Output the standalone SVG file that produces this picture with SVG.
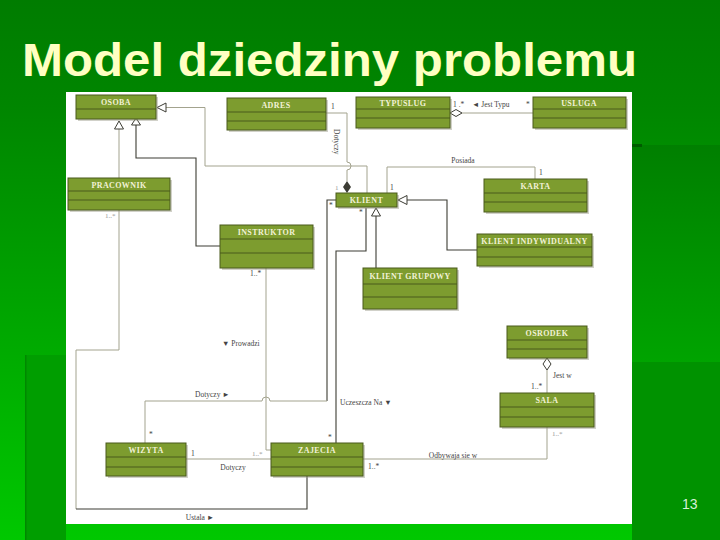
<svg xmlns="http://www.w3.org/2000/svg" width="720" height="540" viewBox="0 0 720 540">
<defs>
<linearGradient id="bg" x1="0" y1="0" x2="0" y2="1">
<stop offset="0" stop-color="#007c00"/>
<stop offset="0.2" stop-color="#008600"/>
<stop offset="1" stop-color="#00c800"/>
</linearGradient>
<linearGradient id="rp" x1="0" y1="0" x2="0" y2="1">
<stop offset="0" stop-color="#007f00"/>
<stop offset="1" stop-color="#00a400"/>
</linearGradient>
<style>
.box{fill:#7d9c2f;stroke:#4a5a1c;stroke-width:1}
.sep{stroke:#4a5a1c;stroke-width:1}
.sh{fill:#9a9a88;opacity:0.45}
.nm{font-family:"Liberation Serif",serif;font-weight:bold;font-size:8px;fill:#f2f2d6;text-anchor:middle;letter-spacing:0.4px}
.lg{fill:none;stroke:#a3a38e;stroke-width:1}
.ld{fill:none;stroke:#3c3c34;stroke-width:1.1}
.tri{fill:#ffffff;stroke:#3c3c34;stroke-width:1}
.lb{font-family:"Liberation Serif",serif;font-size:7.5px;fill:#444}
.lf{font-family:"Liberation Serif",serif;font-size:7px;fill:#999}
</style>
</defs>
<rect width="720" height="540" fill="url(#bg)"/>
<rect x="632" y="145" width="88" height="217" fill="url(#rp)"/>
<rect x="632" y="362" width="88" height="178" fill="#009200"/>
<rect x="632" y="144" width="10" height="3" fill="#005c00"/>
<rect x="25" y="355" width="41" height="185" fill="#009e00"/>
<rect x="25" y="355" width="1.5" height="185" fill="#008800"/>
<text x="22" y="76" font-family="Liberation Sans, Arial, sans-serif" font-weight="bold" font-size="46" fill="#ffffc2" textLength="615" lengthAdjust="spacingAndGlyphs">Model dziedziny problemu</text>
<text x="682" y="509" font-family="Liberation Sans, Arial, sans-serif" font-size="14" fill="#d8f0d8">13</text>
<rect x="66" y="92" width="566" height="432" fill="#ffffff"/>

<g id="connectors">
<!-- PRACOWNIK -> OSOBA -->
<path class="lg" d="M119,129 V178"/>
<polygon class="tri" points="119,121 114.5,129 123.5,129"/>
<!-- INSTRUKTOR -> OSOBA -->
<path class="ld" d="M136,125 V158 H196 V246 H220"/>
<polygon class="tri" points="136,118 131.5,125 140.5,125"/>
<!-- KLIENT -> OSOBA -->
<path class="lg" d="M166,107.5 H205 V166 H367 V193"/>
<polygon class="tri" points="157,107.5 166,103 166,112"/>
<!-- ADRES - KLIENT Dotyczy -->
<path class="lg" d="M326,113 H347 V162 a4,4 0 0 1 0,8 V181"/>
<polygon fill="#3c3c34" points="347,181 351,187 347,193 343,187"/>
<!-- TYPUSLUG - USLUGA -->
<path class="lg" d="M462,113 H533"/>
<polygon fill="#ffffff" stroke="#3c3c34" stroke-width="1" points="450,113 456,109.5 462,113 456,116.5"/>
<!-- KLIENT - KARTA Posiada -->
<path class="lg" d="M387,193 V167 H535 V179"/>
<!-- KLIENT INDYWIDUALNY -> KLIENT -->
<path class="ld" d="M407,200 H447 V250 H477"/>
<polygon class="tri" points="398,200 407,195.5 407,204.5"/>
<!-- KLIENT GRUPOWY -> KLIENT -->
<path class="ld" d="M376,216 V268"/>
<polygon class="tri" points="376,208 371.5,216 380.5,216"/>
<!-- WIZYTA - KLIENT Dotyczy -->
<path class="ld" d="M336,200 H327 V401"/>
<path class="lg" d="M327,401 H270 a4,4 0 0 0 -8,0 H145 V443"/>
<!-- KLIENT - ZAJECIA Uczeszcza Na -->
<path class="ld" d="M366,208 V251 H336 V443"/>
<!-- INSTRUKTOR - ZAJECIA Prowadzi -->
<path class="lg" d="M266,268 V450 H271"/>
<!-- WIZYTA - ZAJECIA Dotyczy -->
<path class="lg" d="M186,459 H271"/>
<!-- PRACOWNIK - ZAJECIA Ustala -->
<path class="lg" d="M119,210 V350 H76 V509"/>
<path class="ld" d="M76,509 H307 V476"/>
<!-- ZAJECIA - SALA -->
<path class="lg" d="M363,459 H547 V427"/>
<!-- OSRODEK - SALA -->
<path class="lg" d="M547,370 V393"/>
<polygon fill="#ffffff" stroke="#3c3c34" stroke-width="1" points="547,358 551,364 547,370 543,364"/>

<text class="lb" x="331" y="109">1</text>
<text class="lb" transform="translate(334,129) rotate(90)">Dotyczy</text>
<text class="lf" x="335" y="190">1</text>
<text class="lb" x="453" y="107">1 .*</text>
<text class="lb" x="472" y="107">◄ Jest Typu</text>
<text class="lb" x="526" y="107">*</text>
<text class="lb" x="463" y="163" text-anchor="middle">Posiada</text>
<text class="lb" x="539" y="175">1</text>
<text class="lb" x="390" y="190">1</text>
<text class="lb" x="329" y="208">*</text>
<text class="lb" x="359" y="215">*</text>
<text class="lf" x="105" y="218">1..*</text>
<text class="lb" x="250" y="276">1..*</text>
<text class="lb" x="222" y="346">▼ Prowadzi</text>
<text class="lb" x="195" y="397">Dotyczy ►</text>
<text class="lb" x="340" y="405">Uczeszcza Na ▼</text>
<text class="lb" x="328" y="440">*</text>
<text class="lb" x="149" y="437">*</text>
<text class="lb" x="191" y="456">1</text>
<text class="lf" x="252" y="456">1..*</text>
<text class="lb" x="233" y="470" text-anchor="middle">Dotyczy</text>
<text class="lb" x="200" y="520" text-anchor="middle">Ustala ►</text>
<text class="lb" x="453" y="458" text-anchor="middle">Odbywaja sie w</text>
<text class="lb" x="368" y="469">1..*</text>
<text class="lf" x="552" y="436">1..*</text>
<text class="lb" x="553" y="378">Jest w</text>
<text class="lb" x="531" y="389">1..*</text>
</g>

<g id="osoba">
<rect class="sh" x="78" y="97" width="80" height="24"/>
<rect class="box" x="76" y="95" width="80" height="24"/>
<line class="sep" x1="76" y1="109" x2="156" y2="109"/>
<text class="nm" x="116" y="105">OSOBA</text>
</g>
<g id="adres">
<rect class="sh" x="229" y="100" width="99" height="32"/>
<rect class="box" x="227" y="98" width="99" height="32"/>
<line class="sep" x1="227" y1="112" x2="326" y2="112"/>
<line class="sep" x1="227" y1="121" x2="326" y2="121"/>
<text class="nm" x="276" y="108">ADRES</text>
</g>
<g id="typuslug">
<rect class="sh" x="358" y="99" width="94" height="31"/>
<rect class="box" x="356" y="97" width="94" height="31"/>
<line class="sep" x1="356" y1="109" x2="450" y2="109"/>
<line class="sep" x1="356" y1="118" x2="450" y2="118"/>
<text class="nm" x="403" y="106">TYPUSLUG</text>
</g>
<g id="usluga">
<rect class="sh" x="535" y="99" width="93" height="31"/>
<rect class="box" x="533" y="97" width="93" height="31"/>
<line class="sep" x1="533" y1="109" x2="626" y2="109"/>
<line class="sep" x1="533" y1="118" x2="626" y2="118"/>
<text class="nm" x="579" y="106">USLUGA</text>
</g>
<g id="pracownik">
<rect class="sh" x="70" y="180" width="102" height="32"/>
<rect class="box" x="68" y="178" width="102" height="32"/>
<line class="sep" x1="68" y1="191" x2="170" y2="191"/>
<line class="sep" x1="68" y1="200" x2="170" y2="200"/>
<text class="nm" x="119" y="188">PRACOWNIK</text>
</g>
<g id="klient">
<rect class="sh" x="338" y="195" width="61" height="14"/>
<rect class="box" x="336" y="193" width="61" height="14"/>
<text class="nm" x="366.5" y="203">KLIENT</text>
</g>
<g id="karta">
<rect class="sh" x="486" y="181" width="103" height="33"/>
<rect class="box" x="484" y="179" width="103" height="33"/>
<line class="sep" x1="484" y1="193" x2="587" y2="193"/>
<line class="sep" x1="484" y1="202" x2="587" y2="202"/>
<text class="nm" x="535.5" y="189">KARTA</text>
</g>
<g id="instruktor">
<rect class="sh" x="222" y="227" width="93" height="43"/>
<rect class="box" x="220" y="225" width="93" height="43"/>
<line class="sep" x1="220" y1="239" x2="313" y2="239"/>
<line class="sep" x1="220" y1="253" x2="313" y2="253"/>
<text class="nm" x="266.5" y="235">INSTRUKTOR</text>
</g>
<g id="klient-indywidualny">
<rect class="sh" x="479" y="236" width="115" height="32"/>
<rect class="box" x="477" y="234" width="115" height="32"/>
<line class="sep" x1="477" y1="247" x2="592" y2="247"/>
<line class="sep" x1="477" y1="257" x2="592" y2="257"/>
<text class="nm" x="534.5" y="244">KLIENT INDYWIDUALNY</text>
</g>
<g id="klient-grupowy">
<rect class="sh" x="365" y="270" width="94" height="41"/>
<rect class="box" x="363" y="268" width="94" height="41"/>
<line class="sep" x1="363" y1="284" x2="457" y2="284"/>
<line class="sep" x1="363" y1="297" x2="457" y2="297"/>
<text class="nm" x="410" y="279">KLIENT GRUPOWY</text>
</g>
<g id="osrodek">
<rect class="sh" x="509" y="328" width="80" height="32"/>
<rect class="box" x="507" y="326" width="80" height="32"/>
<line class="sep" x1="507" y1="340" x2="587" y2="340"/>
<line class="sep" x1="507" y1="349" x2="587" y2="349"/>
<text class="nm" x="547" y="336">OSRODEK</text>
</g>
<g id="sala">
<rect class="sh" x="502" y="395" width="94" height="34"/>
<rect class="box" x="500" y="393" width="94" height="34"/>
<line class="sep" x1="500" y1="407" x2="594" y2="407"/>
<line class="sep" x1="500" y1="417" x2="594" y2="417"/>
<text class="nm" x="547" y="403">SALA</text>
</g>
<g id="wizyta">
<rect class="sh" x="108" y="445" width="80" height="33"/>
<rect class="box" x="106" y="443" width="80" height="33"/>
<line class="sep" x1="106" y1="457" x2="186" y2="457"/>
<line class="sep" x1="106" y1="467" x2="186" y2="467"/>
<text class="nm" x="146" y="453">WIZYTA</text>
</g>
<g id="zajecia">
<rect class="sh" x="273" y="445" width="92" height="33"/>
<rect class="box" x="271" y="443" width="92" height="33"/>
<line class="sep" x1="271" y1="457" x2="363" y2="457"/>
<line class="sep" x1="271" y1="467" x2="363" y2="467"/>
<text class="nm" x="317" y="453">ZAJECIA</text>
</g>
</svg>
